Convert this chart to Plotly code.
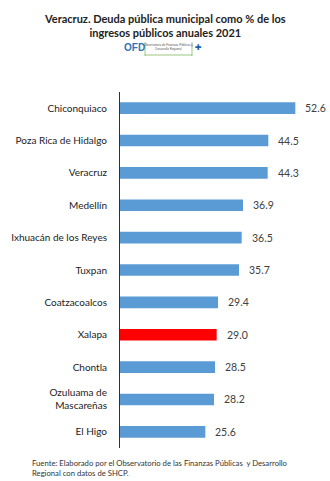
import plotly.graph_objects as go

municipios = ["Chiconquiaco", "Poza Rica de Hidalgo", "Veracruz", "Medellín",
              "Ixhuacán de los Reyes", "Tuxpan", "Coatzacoalcos", "Xalapa",
              "Chontla", "Ozuluama de<br>Mascareñas", "El Higo"]
deuda_pct = [52.6, 44.5, 44.3, 36.9, 36.5, 35.7, 29.4, 29.0, 28.5, 28.2, 25.6]
resaltado = "Xalapa"

azul = "#5B9BD5"
rojo = "#FF0000"
colores = [rojo if m == resaltado else azul for m in municipios]

# plot-area geometry in pixels, used to place paper-anchored decorations
L, R, T, B, H = 120, 10, 92, 33, 481
PW, PH = 330 - L - R, H - T - B


def px(x):
    return (x - L) / PW


def py(y):
    return (H - B - y) / PH


fig = go.Figure()
fig.add_trace(go.Bar(
    y=municipios, x=deuda_pct, orientation="h",
    marker=dict(color=colores, line=dict(width=0)),
    width=0.36, hoverinfo="skip",
))

# value labels beside each bar
for m, v in zip(municipios, deuda_pct):
    fig.add_annotation(x=v, y=m, text=f"{v:.1f}", showarrow=False,
                       xanchor="left", xshift=8,
                       font=dict(family="Lato, Open Sans, sans-serif", size=10.5, color="#404040"))

fig.update_layout(
    width=330, height=481,
    margin=dict(l=L, r=R, t=T, b=B),
    paper_bgcolor="white", plot_bgcolor="white",
    showlegend=False,
    xaxis=dict(range=[0, 60], visible=False, fixedrange=True),
    yaxis=dict(autorange="reversed", showline=True, linecolor="#303030", linewidth=1,
               ticks="", showgrid=False, ticklabelstandoff=10,
               tickfont=dict(family="Lato, Open Sans, sans-serif", size=10, color="#222222")),
    font=dict(family="Lato, Open Sans, sans-serif"),
)

# title
fig.add_annotation(xref="paper", yref="paper", x=px(165), y=py(25),
                   xanchor="center", yanchor="middle",
                   text="<b>Veracruz. Deuda pública municipal como % de los<br>ingresos públicos anuales 2021</b>",
                   showarrow=False, align="center",
                   font=dict(family="Lato, Open Sans, sans-serif", size=11, color="#222222"))

# OFD mark
fig.add_annotation(xref="paper", yref="paper", x=px(134), y=py(48),
                   text="<b>OFD</b>", showarrow=False, xanchor="center", yanchor="middle",
                   font=dict(family="Liberation Sans, sans-serif", size=10, color="#2E75B6"))
fig.add_annotation(xref="paper", yref="paper", x=px(168), y=py(47),
                   text="Observatorio de Finanzas Públicas y<br>Desarrollo Regional",
                   showarrow=False, xanchor="center", yanchor="middle",
                   font=dict(family="Liberation Sans, sans-serif", size=3, color="#555555"))
fig.add_annotation(xref="paper", yref="paper", x=px(198), y=py(48),
                   text="<b>✚</b>", showarrow=False, xanchor="center", yanchor="middle",
                   font=dict(family="DejaVu Sans, sans-serif", size=8, color="#1F5FA8"))
for x0, x1, y0, y1 in [(145, 145, 42, 56), (192, 192, 42, 56), (145, 192, 55, 55)]:
    fig.add_shape(type="line", xref="paper", yref="paper",
                  x0=px(x0), x1=px(x1), y0=py(y0), y1=py(y1),
                  line=dict(color="#70AD47", width=0.7))

# source note
fig.add_annotation(xref="paper", yref="paper", x=px(30), y=py(468),
                   text="Fuente: Elaborado por el Observatorio de las Finanzas Públicas  y Desarrollo<br>Regional con datos de SHCP.",
                   showarrow=False, xanchor="left", yanchor="middle", align="left",
                   font=dict(family="Lato, Open Sans, sans-serif", size=7.7, color="#333333"))

fig.write_html("out.html")
